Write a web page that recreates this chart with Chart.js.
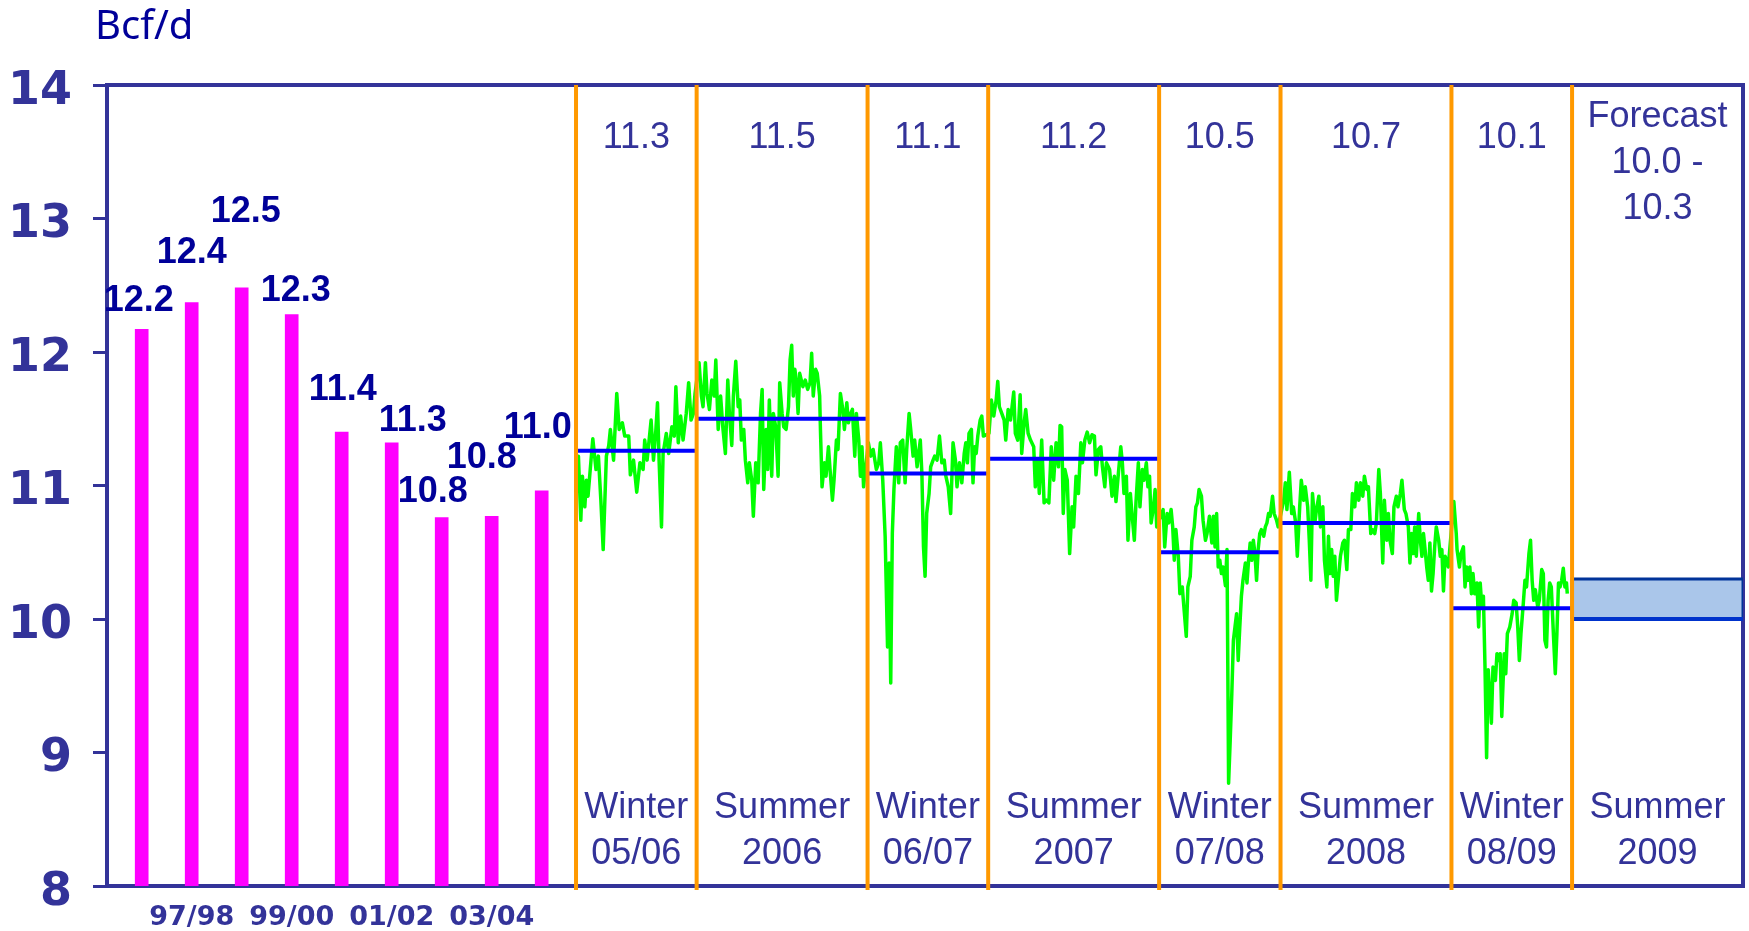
<!DOCTYPE html>
<html><head><meta charset="utf-8">
<script src="https://cdn.jsdelivr.net/npm/chart.js@4.4.1/dist/chart.umd.min.js"></script>
<style>html,body{margin:0;padding:0;background:#fff;overflow:hidden}canvas{display:block}</style>
</head><body>
<canvas id="c" width="1749" height="931"></canvas>
<script>
// ---------------- DATA ----------------
const unitLabel = 'Bcf/d';
const yearCategories = ['96/97','97/98','98/99','99/00','00/01','01/02','02/03','03/04','04/05'];
const yearValues = [12.17,12.37,12.48,12.28,11.40,11.32,10.76,10.77,10.96];
const seasonNames = [['Winter','05/06'],['Summer','2006'],['Winter','06/07'],['Summer','2007'],['Winter','07/08'],['Summer','2008'],['Winter','08/09'],['Summer','2009']];
const seasonStartDates = ['2005-11-01','2006-04-01','2006-11-01','2007-04-01','2007-11-01','2008-04-01','2008-11-01','2009-04-01','2009-11-01'];
const seasonAverages = [11.26,11.50,11.09,11.20,10.50,10.72,10.08];
const forecastLabel = 'Forecast';
const forecastRange = [10.0,10.3];
const yTicks = [8,9,10,11,12,13,14];
// daily flow: [days since 2005-11-01, Bcf/d]
const winter0506 = [[0,10.95],[3,11.22],[6,10.74],[8,11.07],[11,10.84],[13,11.04],[15,10.92],[21,11.35],[25,11.12],[28,11.22],[31,10.90],[34,10.52],[38,11.22],[41,11.30],[43,11.42],[47,11.19],[51,11.69],[54,11.42],[58,11.47],[61,11.37],[66,11.37],[68,11.08],[72,11.19],[76,10.95],[80,11.17],[84,11.12],[86,11.34],[89,11.19],[94,11.49],[97,11.19],[100,11.42],[102,11.62],[104,11.19],[107,10.69],[109,11.24],[113,11.39],[116,11.24],[120,11.44],[123,11.37],[125,11.74],[128,11.32],[131,11.52],[134,11.34],[138,11.54],[141,11.77],[144,11.49],[147,11.54],[149,11.69]];
const summer2006 = [[154,11.92],[157,11.67],[159,11.59],[162,11.92],[164,11.69],[167,11.57],[170,11.79],[173,11.67],[175,11.94],[178,11.42],[181,11.67],[184,11.42],[187,11.24],[190,11.79],[192,11.54],[195,11.30],[197,11.67],[200,11.93],[203,11.59],[205,11.64],[207,11.34],[210,11.42],[212,11.19],[215,11.02],[217,11.17],[220,11.04],[222,10.77],[225,11.17],[228,11.02],[231,11.54],[233,11.72],[235,10.97],[238,11.42],[240,11.12],[242,11.64],[245,11.07],[247,11.54],[250,11.44],[253,11.07],[255,11.77],[258,11.54],[260,11.44],[263,11.42],[266,11.59],[268,11.94],[270,12.05],[272,11.67],[274,11.87],[276,11.77],[278,11.54],[280,11.84],[284,11.74],[287,11.79],[290,11.72],[293,11.77],[295,11.99],[297,11.67],[300,11.87],[302,11.84],[305,11.67],[306,11.42],[308,10.99],[311,11.17],[313,11.07],[316,11.29],[318,11.12],[321,10.89],[323,11.04],[326,11.34],[328,11.27],[331,11.69],[334,11.57],[336,11.42],[339,11.62],[341,11.47],[344,11.54],[346,11.57],[349,11.22],[351,11.54],[354,11.34],[356,11.07],[358,11.29],[360,10.99]];
const winter0607 = [[366,11.32],[369,11.22],[372,11.27],[376,11.12],[379,11.17],[381,11.32],[384,11.04],[387,10.62],[390,9.79],[392,10.42],[394,9.52],[396,10.64],[398,10.97],[401,11.29],[404,11.02],[406,11.32],[409,11.34],[412,11.02],[414,11.27],[417,11.54],[419,11.42],[422,11.22],[424,11.34],[427,11.14],[431,11.34],[433,11.09],[435,10.54],[437,10.32],[439,10.79],[442,10.94],[444,11.14],[447,11.19],[449,11.22],[452,11.19],[455,11.37],[458,11.17],[461,11.19],[463,11.07],[466,10.99],[469,10.79],[472,11.32],[475,11.19],[477,10.99],[480,11.17],[483,11.02],[486,11.24],[488,11.32],[490,11.17],[492,11.39],[495,11.42],[497,11.02],[499,11.29],[501,11.24],[503,11.37],[506,11.49],[508,11.52],[510,11.37]];
const summer2007 = [[517,11.39],[520,11.64],[523,11.52],[526,11.64],[528,11.78],[530,11.59],[533,11.54],[536,11.49],[538,11.34],[541,11.57],[544,11.49],[548,11.70],[550,11.39],[553,11.34],[556,11.68],[558,11.24],[561,11.47],[563,11.57],[566,11.39],[569,11.34],[573,11.29],[575,10.99],[578,11.19],[580,10.94],[583,11.34],[586,10.87],[589,10.89],[592,10.87],[595,11.29],[598,11.04],[601,11.32],[604,11.14],[606,11.45],[608,11.44],[610,10.79],[612,11.12],[615,11.04],[618,10.49],[621,10.84],[623,10.69],[626,11.07],[629,10.94],[632,11.32],[634,11.17],[637,11.34],[640,11.40],[643,11.32],[646,11.38],[649,11.37],[651,11.08],[654,11.27],[657,11.29],[659,11.14],[662,10.99],[664,11.17],[668,11.12],[671,10.92],[674,11.07],[676,10.88],[679,11.09],[682,11.29],[684,11.17],[686,10.94],[689,11.07],[691,10.59],[694,10.94],[696,10.79],[699,10.59],[701,10.87],[704,11.17],[706,10.84],[709,11.12],[711,11.04],[714,11.17],[716,10.99],[718,11.07],[720,10.72],[723,10.84],[725,10.97],[727,10.69]];
const winter0708 = [[735,10.82],[737,10.54],[740,10.79],[742,10.72],[745,10.82],[747,10.69],[749,10.44],[751,10.67],[754,10.47],[756,10.19],[759,10.24],[761,10.09],[764,9.87],[766,10.24],[769,10.32],[771,10.59],[774,10.69],[776,10.84],[778,10.87],[780,10.97],[783,10.92],[785,10.74],[788,10.59],[790,10.64],[793,10.77],[796,10.57],[798,10.77],[800,10.54],[802,10.79],[804,10.39],[806,10.44],[808,10.34],[810,10.39],[813,10.25],[815,10.52],[817,8.77],[819,9.09],[821,9.44],[823,9.84],[825,9.94],[827,10.04],[829,9.69],[831,9.94],[833,10.17],[835,10.29],[838,10.42],[840,10.27],[842,10.44],[844,10.57],[846,10.44],[848,10.59],[850,10.49],[852,10.29],[854,10.52],[856,10.64],[858,10.67],[861,10.62],[863,10.69],[865,10.72],[867,10.79],[869,10.77],[872,10.92],[874,10.79],[877,10.74],[879,10.69]];
const summer2008 = [[886,10.89],[888,11.02],[890,10.82],[893,11.10],[896,10.79],[898,10.84],[901,10.72],[903,10.47],[906,10.84],[908,11.04],[911,10.89],[913,10.99],[916,10.84],[918,10.59],[920,10.29],[922,10.94],[925,10.72],[927,10.82],[930,10.92],[932,10.69],[935,10.84],[937,10.44],[940,10.24],[942,10.62],[944,10.34],[946,10.52],[948,10.32],[950,10.47],[952,10.14],[955,10.34],[957,10.47],[960,10.57],[962,10.59],[965,10.37],[967,10.67],[970,10.67],[972,10.94],[975,10.84],[977,11.02],[980,10.89],[982,11.02],[985,10.92],[987,11.07],[990,10.97],[992,10.99],[995,10.64],[997,10.67],[1000,10.64],[1002,10.72],[1005,11.12],[1007,10.94],[1010,10.42],[1012,10.89],[1015,10.59],[1017,10.79],[1019,10.59],[1022,10.49],[1024,10.84],[1027,10.92],[1029,10.84],[1032,10.94],[1034,11.04],[1037,10.82],[1039,10.79],[1042,10.69],[1044,10.42],[1046,10.64],[1048,10.49],[1050,10.69],[1052,10.47],[1055,10.79],[1057,10.59],[1059,10.47],[1061,10.64],[1063,10.52],[1065,10.39],[1067,10.29],[1069,10.57],[1071,10.21],[1073,10.34],[1075,10.54],[1077,10.69],[1080,10.59],[1082,10.47],[1084,10.52],[1086,10.21],[1088,10.47],[1090,10.44],[1092,10.39]];
const winter0809 = [[1099,10.88],[1102,10.64],[1103,10.52],[1106,10.39],[1108,10.49],[1111,10.54],[1113,10.24],[1115,10.39],[1117,10.29],[1119,10.39],[1121,10.19],[1123,10.34],[1125,10.19],[1128,10.27],[1130,9.94],[1132,10.27],[1134,10.09],[1136,10.17],[1138,9.64],[1140,8.96],[1142,9.62],[1144,9.44],[1146,9.22],[1148,9.64],[1151,9.54],[1153,9.74],[1155,9.69],[1157,9.74],[1159,9.27],[1162,9.74],[1164,9.59],[1166,9.89],[1169,9.94],[1172,10.04],[1174,10.14],[1177,10.12],[1179,9.94],[1181,9.69],[1183,9.89],[1186,10.12],[1188,10.29],[1190,10.24],[1193,10.49],[1195,10.59],[1197,10.29],[1199,10.14],[1201,10.22],[1204,10.09],[1206,10.14],[1209,10.37],[1211,10.34],[1213,9.84],[1215,9.79],[1217,10.14],[1219,10.27],[1221,10.24],[1224,9.84],[1226,9.59],[1228,9.89],[1230,10.27],[1232,10.24],[1234,10.29],[1236,10.38],[1238,10.24],[1240,10.27],[1241,10.19]];

// ---------------- BUILD ----------------
const C_AXIS = '#333399';
const dayOf = s => { const [y,m,d] = s.split('-').map(Number); return (Date.UTC(y,m-1,d) - Date.UTC(2005,10,1)) / 864e5; };
const bounds = seasonStartDates.map(dayOf);
const flowPoints = [].concat(winter0506, summer2006, winter0607, summer2007, winter0708, summer2008, winter0809).map(([d,v]) => ({x:d, y:v}));
const avgPoints = [];
seasonAverages.forEach((v,i) => { avgPoints.push({x:bounds[i],y:v},{x:bounds[i+1],y:v},{x:bounds[i+1],y:null}); });
const orangePoints = [];
bounds.slice(0, seasonNames.length).forEach(d => { orangePoints.push({x:d,y:7.97},{x:d,y:14},{x:d,y:null}); });
const fcStart = bounds[7], fcEnd = bounds[8];
const forecastBox = [{x:fcStart,y:forecastRange[0]},{x:fcStart,y:forecastRange[1]},{x:fcEnd,y:forecastRange[1]},{x:fcEnd,y:forecastRange[0]}];
const forecastBase = [{x:fcStart,y:forecastRange[0]},{x:fcEnd,y:forecastRange[0]}];

// label offsets (px) of bar value labels relative to bar top
const barLabelShift = [[-3,-28],[0,-50],[4,-76],[4,-24],[1,-42],[21,-22],[-9,-25],[-10,-58],[-4,-63]];

const framePlugin = {
  id:'frame',
  beforeDatasetsDraw(chart){
    const {ctx, chartArea:a} = chart;
    ctx.save();
    ctx.strokeStyle = C_AXIS; ctx.lineWidth = 4;
    ctx.beginPath(); ctx.moveTo(a.left-2, a.top); ctx.lineTo(a.right, a.top); ctx.lineTo(a.right, a.bottom+2); ctx.stroke();
    ctx.restore();
  }
};
const textPlugin = {
  id:'texts',
  afterDatasetsDraw(chart){
    const {ctx, chartArea:a, scales} = chart;
    const xd = scales.xd;
    ctx.save();
    ctx.fillStyle = '#000099'; ctx.font = '40px "Noto Sans"'; ctx.textAlign = 'left'; ctx.textBaseline = 'alphabetic';
    ctx.fillText(unitLabel, a.left - 12, a.top - 46);
    const meta = chart.getDatasetMeta(5);
    ctx.font = 'bold 36px "Liberation Sans"'; ctx.fillStyle = '#000099'; ctx.textAlign = 'center'; ctx.textBaseline = 'middle';
    meta.data.forEach((el,i) => { ctx.fillText(yearValues[i].toFixed(1), el.x + barLabelShift[i][0], el.y + barLabelShift[i][1]); });
    ctx.font = '36px "Liberation Sans"'; ctx.fillStyle = C_AXIS;
    seasonNames.forEach((nm,i) => {
      const cx = xd.getPixelForValue((bounds[i]+bounds[i+1])/2);
      if (i < seasonAverages.length) {
        ctx.fillText(seasonAverages[i].toFixed(1), cx, a.top + 53);
      } else {
        ctx.fillText(forecastLabel, cx, a.top + 32);
        ctx.fillText(forecastRange[0].toFixed(1) + ' -', cx, a.top + 78);
        ctx.fillText(forecastRange[1].toFixed(1), cx, a.top + 124);
      }
      ctx.fillText(nm[0], cx, a.bottom - 78);
      ctx.fillText(nm[1], cx, a.bottom - 32);
    });
    ctx.restore();
  }
};

new Chart(document.getElementById('c'), {
  type: 'line',
  data: {
    datasets: [
      {type:'line', data:orangePoints, xAxisID:'xd', yAxisID:'y', borderColor:'#FF9900', borderWidth:4, pointRadius:0, order:0, borderCapStyle:'butt', clip:false},
      {type:'line', data:forecastBase, xAxisID:'xd', yAxisID:'y', borderColor:'#0033CC', borderWidth:4, pointRadius:0, order:1},
      {type:'line', data:forecastBox, xAxisID:'xd', yAxisID:'y', borderColor:'#003399', borderWidth:3, pointRadius:0, order:2, fill:{value:forecastRange[0]}, backgroundColor:'#AAC6EA'},
      {type:'line', data:avgPoints, xAxisID:'xd', yAxisID:'y', borderColor:'#0000FF', borderWidth:4, pointRadius:0, order:3},
      {type:'line', data:flowPoints, xAxisID:'xd', yAxisID:'y', borderColor:'#00FF00', borderWidth:3.5, pointRadius:0, order:4, tension:0, borderJoinStyle:'round'},
      {type:'bar', data:yearValues.map((v,i)=>({x:i,y:v})), xAxisID:'xb', yAxisID:'y', backgroundColor:'#FF00FF', barThickness:13, grouped:false, order:5}
    ]
  },
  options: {
    responsive:false, animation:false, devicePixelRatio:1,
    layout:{padding:{left:0,right:6,top:85,bottom:0}, autoPadding:false},
    plugins:{legend:{display:false}, tooltip:{enabled:false}, title:{display:false}},
    scales:{
      y:{type:'linear', position:'left', min:8, max:14,
        afterFit(s){ s.width = 107; s.paddingTop = 0; s.paddingBottom = 0; },
        afterBuildTicks(s){ s.ticks = yTicks.map(v=>({value:v})); },
        ticks:{color:C_AXIS, font:{family:'DejaVu Sans', size:46, weight:'bold'}, padding:21, labelOffset:7},
        grid:{display:true, drawOnChartArea:false, drawTicks:true, tickLength:14, tickColor:C_AXIS, tickWidth:3},
        border:{display:true, color:C_AXIS, width:4}},
      xb:{type:'linear', position:'bottom', min:-0.694, max:32.026, offset:false,
        afterFit(s){ s.height = 45; },
        afterBuildTicks(s){ s.ticks = yearCategories.map((_,i)=>({value:i})).filter(t=>t.value % 2 === 1); },
        ticks:{autoSkip:false, maxRotation:0, color:C_AXIS, font:{family:'DejaVu Sans', size:27, weight:'bold'}, padding:16, callback:v=>yearCategories[v]},
        grid:{display:false, drawTicks:false},
        border:{display:true, color:C_AXIS, width:4}},
      xd:{type:'linear', display:false, min:-587.2, max:1461}
    }
  },
  plugins:[framePlugin, textPlugin]
});
</script>
</body></html>
